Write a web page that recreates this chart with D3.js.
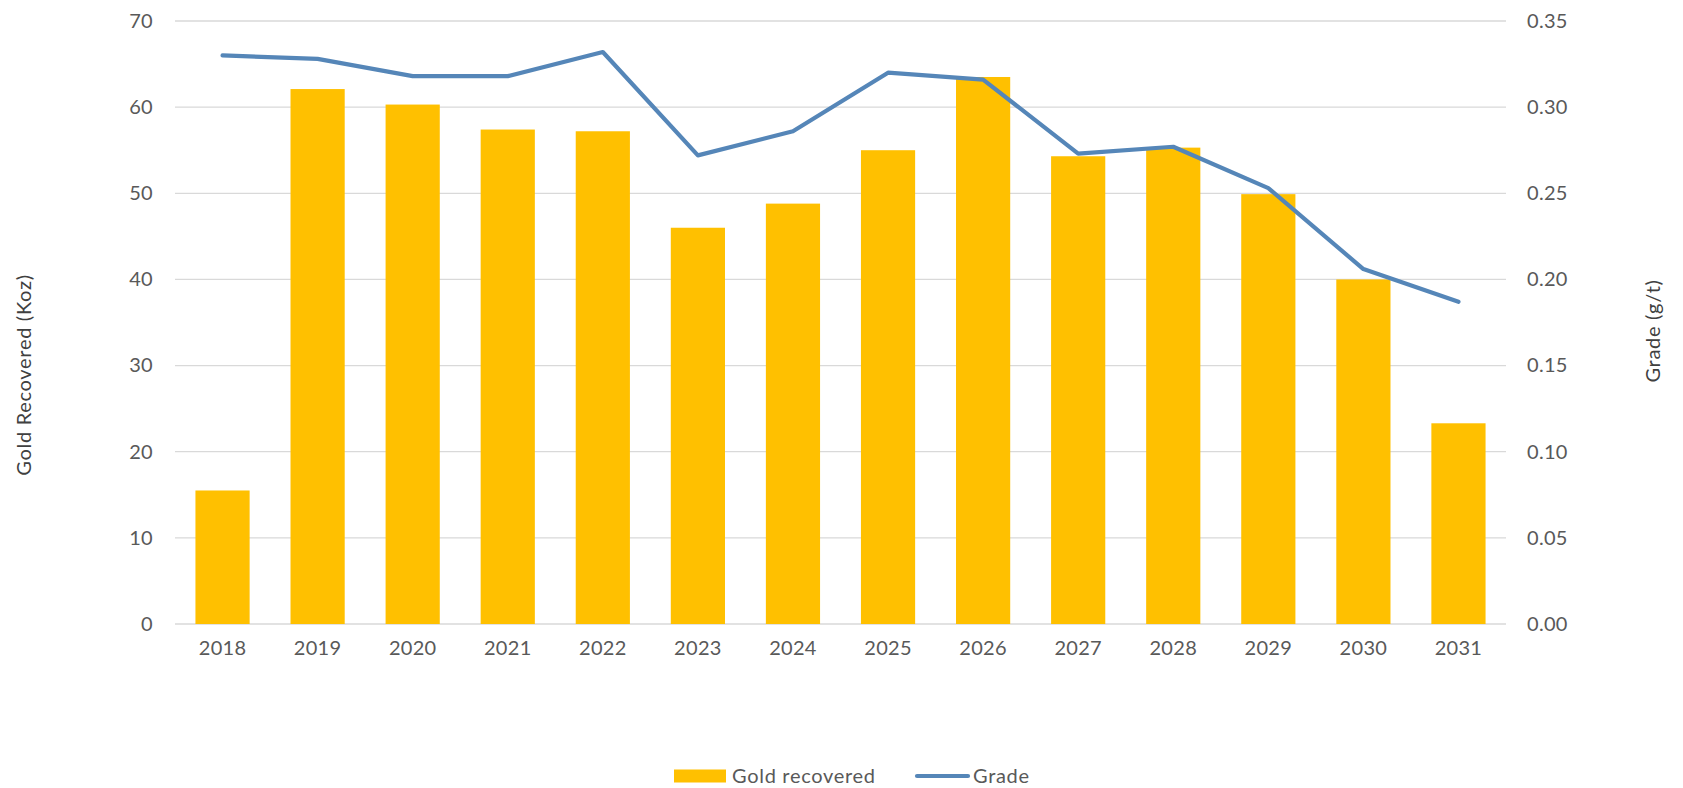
<!DOCTYPE html>
<html>
<head>
<meta charset="utf-8">
<script src="https://cdn.jsdelivr.net/npm/d3@7"></script>
<style>
  body { margin: 0; background: #fff; }
  svg { display: block; font-family: Lato, "Open Sans", sans-serif; }
</style>
</head>
<body>
<div id="chart"></div>
<script>
// data
var years = ["2018", "2019", "2020", "2021", "2022", "2023", "2024", "2025", "2026", "2027", "2028", "2029", "2030", "2031"];
var goldRecovered = [15.5, 62.1, 60.3, 57.4, 57.2, 46.0, 48.8, 55.0, 63.5, 54.3, 55.3, 49.9, 40.0, 23.3];
var grade = [0.330, 0.328, 0.318, 0.318, 0.332, 0.272, 0.286, 0.320, 0.316, 0.273, 0.277, 0.253, 0.206, 0.187];
var leftTicks = [0, 10, 20, 30, 40, 50, 60, 70];
var rightTicks = [0, 0.05, 0.10, 0.15, 0.20, 0.25, 0.30, 0.35];

var W = 1683, H = 788;
var margin = { top: 21, right: 177, bottom: 164, left: 175 };
var width = W - margin.left - margin.right,
  height = H - margin.top - margin.bottom;

var svg = d3.select("#chart")
  .append("svg")
  .attr("width", W)
  .attr("height", H);

var g = svg.append("g")
  .attr("transform", "translate(" + margin.left + "," + margin.top + ")");

var x = d3.scaleBand()
  .domain(years)
  .range([0, width])
  .paddingInner(0.43)
  .paddingOuter(0.215);

var y = d3.scaleLinear().domain([0, 70]).range([height, 0]);
var y2 = d3.scaleLinear().domain([0, 0.35]).range([height, 0]);

// gridlines
g.append("g")
  .selectAll("line")
  .data(leftTicks)
  .enter().append("line")
  .attr("x1", 0)
  .attr("x2", width)
  .attr("y1", d => y(d))
  .attr("y2", d => y(d))
  .attr("stroke", "#d9d9d9")
  .attr("stroke-width", 1.3);

// bars
g.append("g")
  .selectAll("rect")
  .data(years.map((yr, i) => ({ yr, v: goldRecovered[i] })))
  .enter().append("rect")
  .attr("x", d => x(d.yr))
  .attr("y", d => y(d.v))
  .attr("width", x.bandwidth())
  .attr("height", d => y(0) - y(d.v))
  .attr("fill", "#ffc000");

// grade line
var line = d3.line()
  .x((d, i) => x(years[i]) + x.bandwidth() / 2)
  .y(d => y2(d));

g.append("path")
  .datum(grade)
  .attr("d", line)
  .attr("fill", "none")
  .attr("stroke", "#5586b8")
  .attr("stroke-width", 4.2)
  .attr("stroke-linejoin", "round")
  .attr("stroke-linecap", "round");

// axes
var leftAxis = g.append("g")
  .call(d3.axisLeft(y).tickValues(leftTicks).tickSize(0).tickPadding(22));
var rightAxis = g.append("g")
  .attr("transform", "translate(" + width + ",0)")
  .call(d3.axisRight(y2).tickValues(rightTicks).tickFormat(d3.format(".2f")).tickSize(0).tickPadding(21));
var bottomAxis = g.append("g")
  .attr("transform", "translate(0," + height + ")")
  .call(d3.axisBottom(x).tickSize(0).tickPadding(17));

[leftAxis, rightAxis, bottomAxis].forEach(a => {
  a.select(".domain").remove();
  a.selectAll("text")
    .attr("fill", "#595959")
    .style("font-size", "20px")
    .style("letter-spacing", "0.3px")
    .style("font-family", "Lato, 'Open Sans', sans-serif");
});

// axis titles
svg.append("text")
  .attr("transform", "translate(31,375) rotate(-90)")
  .attr("text-anchor", "middle")
  .attr("fill", "#404040")
  .style("font-size", "20px")
  .style("letter-spacing", "0.7px")
  .text("Gold Recovered (Koz)");

svg.append("text")
  .attr("transform", "translate(1660,331) rotate(-90)")
  .attr("text-anchor", "middle")
  .attr("fill", "#404040")
  .style("font-size", "20px")
  .style("letter-spacing", "0.7px")
  .text("Grade (g/t)");

// legend
var legend = svg.append("g").attr("transform", "translate(674,776)");
legend.append("rect")
  .attr("x", 0).attr("y", -6.5)
  .attr("width", 52).attr("height", 13)
  .attr("fill", "#ffc000");
legend.append("text")
  .attr("x", 58).attr("y", 0).attr("dy", "0.35em")
  .attr("fill", "#595959")
  .style("font-size", "20px")
  .style("letter-spacing", "0.7px")
  .text("Gold recovered");
legend.append("line")
  .attr("x1", 243).attr("x2", 294)
  .attr("y1", 0).attr("y2", 0)
  .attr("stroke", "#5586b8")
  .attr("stroke-width", 4.2)
  .attr("stroke-linecap", "round");
legend.append("text")
  .attr("x", 299).attr("y", 0).attr("dy", "0.35em")
  .attr("fill", "#595959")
  .style("font-size", "20px")
  .style("letter-spacing", "0.7px")
  .text("Grade");
</script>
</body>
</html>
